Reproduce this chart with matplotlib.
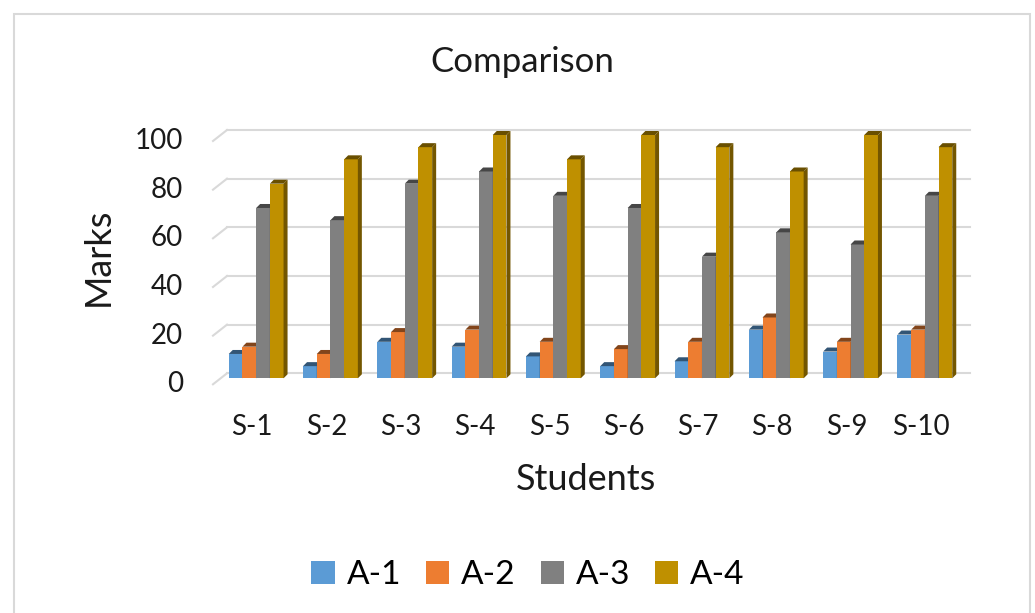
import matplotlib.pyplot as plt
import matplotlib.transforms as mtransforms
from matplotlib.patches import Rectangle, Polygon
from matplotlib.colors import to_rgb

# ── Data ───────────────────────────────────────────────────────────────────────
students = ["S-1", "S-2", "S-3", "S-4", "S-5", "S-6", "S-7", "S-8", "S-9", "S-10"]
series = ["A-1", "A-2", "A-3", "A-4"]
a1 = [10, 5, 15, 13, 9, 5, 7, 20, 11, 18]
a2 = [13, 10, 19, 20, 15, 12, 15, 25, 15, 20]
a3 = [70, 65, 80, 85, 75, 70, 50, 60, 55, 75]
a4 = [80, 90, 95, 100, 90, 100, 95, 85, 100, 95]
yticks = [0, 20, 40, 60, 80, 100]

colors = ["#5B9BD5", "#ED7D31", "#808080", "#BF9000"]

# ── Figure / axes (pixel based layout) ─────────────────────────────────────────
W, H, DPI = 1035, 613, 100
fig = plt.figure(figsize=(W / DPI, H / DPI), dpi=DPI)
fig.patch.set_facecolor("white")
plt.rcParams["font.family"] = ["Lato", "DejaVu Sans"]

wall_l, wall_r, wall_top, wall_bot = 227, 970, 130, 373.3
ax = fig.add_axes([wall_l / W, (H - wall_bot) / H,
                   (wall_r - wall_l) / W, (wall_bot - wall_top) / H])
ax.set_xlim(-0.5, len(students) - 0.5)
ax.set_ylim(0, 100)
ax.axis("off")

px_x = (wall_r - wall_l) / len(students)   # pixels per category
px_y = (wall_bot - wall_top) / 100         # pixels per mark


def off(dx, dy):
    # pixel offset on top of data coordinates (dy positive = up)
    return ax.transData + mtransforms.ScaledTranslation(dx / DPI, dy / DPI, fig.dpi_scale_trans)


# border around the chart area
fig.patches.append(Rectangle((14 / W, -0.05), (1030 - 14) / W, (H - 14) / H + 0.05,
                             transform=fig.transFigure, fill=False,
                             edgecolor="#D9D9D9", lw=1.5))

# back wall gridlines + short floor diagonals
front_dx, front_dy = -14, -11
for t in yticks:
    ax.plot([-0.5, len(students) - 0.5], [t, t], color="#D9D9D9", lw=1.5,
            clip_on=False, zorder=1)
    ax.plot([-0.5 + front_dx / px_x, -0.5], [t + front_dy / px_y, t],
            color="#D9D9D9", lw=1.5, clip_on=False, zorder=1)
    ax.text(-0.5, t, str(t), transform=off(front_dx - 30, front_dy),
            ha="right", va="center", fontsize=20, color="#1a1a1a")

# ── 3D-ish bars ────────────────────────────────────────────────────────────────
bar_w = 13.7 / px_x
bdx, bdy = -8 / px_x, -5 / px_y      # shift of bar front face
ddx, ddy = 4 / px_x, 4 / px_y        # bar depth


def shade(c, f):
    r, g, b = to_rgb(c)
    return (r * f, g * f, b * f)


for j, vals in enumerate([a1, a2, a3, a4]):
    for i, v in enumerate(vals):
        x0 = i + bdx + (j - 2) * bar_w
        x1 = x0 + bar_w
        y0, y1 = bdy, v + bdy
        ax.add_patch(Rectangle((x0, y0), bar_w, v, facecolor=colors[j],
                               edgecolor="none", clip_on=False, zorder=3))
        ax.add_patch(Polygon([(x1, y0), (x1 + ddx, y0 + ddy), (x1 + ddx, y1 + ddy), (x1, y1)],
                             facecolor=shade(colors[j], 0.6), edgecolor="none",
                             clip_on=False, zorder=3))
        ax.add_patch(Polygon([(x0, y1), (x1, y1), (x1 + ddx, y1 + ddy), (x0 + ddx, y1 + ddy)],
                             facecolor=shade(colors[j], 0.55), edgecolor="none",
                             clip_on=False, zorder=3))

# category labels
for i, s in enumerate(students):
    ax.text(i, 0, s, transform=off(-12, -54), ha="center", va="center",
            fontsize=20, color="#1a1a1a")

# ── Titles ─────────────────────────────────────────────────────────────────────
fig.text(522 / W, 1 - 62 / H, "Comparison", ha="center", va="center",
         fontsize=25, color="#1a1a1a")
fig.text(98 / W, 1 - 257 / H, "Marks", ha="center", va="center",
         rotation=90, fontsize=26, color="#1a1a1a")
fig.text(586 / W, 1 - 480 / H, "Students", ha="center", va="center",
         fontsize=26, color="#1a1a1a")

# legend
handles = [Rectangle((0, 0), 1, 1, facecolor=c, edgecolor="none") for c in colors]
fig.legend(handles, series, loc="center", bbox_to_anchor=(528 / W, 1 - 575 / H),
           ncol=4, frameon=False, fontsize=24, handlelength=0.7, handleheight=0.7,
           handletextpad=0.35, columnspacing=0.75)

fig.savefig("out.png", dpi=DPI)
